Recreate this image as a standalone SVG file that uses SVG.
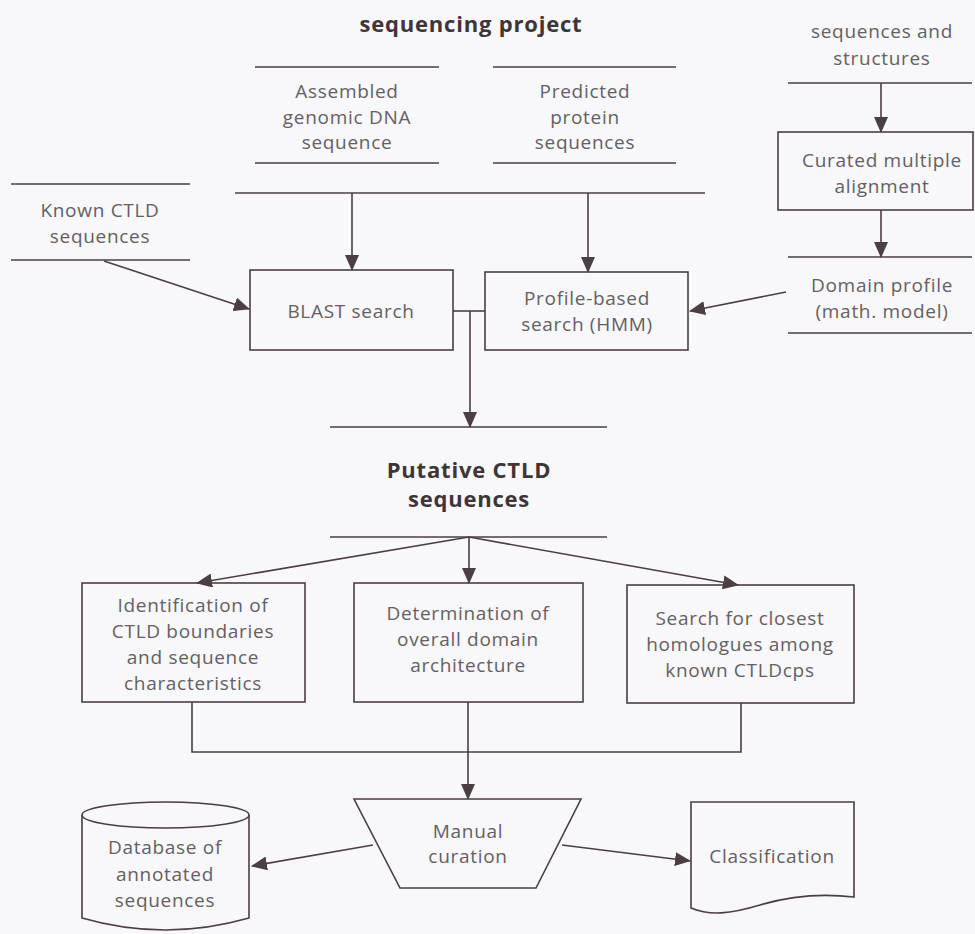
<svg xmlns="http://www.w3.org/2000/svg" width="975" height="934" viewBox="0 0 975 934">
<defs>
<marker id="ah" markerWidth="16" markerHeight="14" refX="15" refY="7" orient="auto" markerUnits="userSpaceOnUse"><path d="M0,0 L16,7 L0,14 z" fill="#4a3f43"/></marker>
<style>
.t{font-family:"Open Sans","Lato",sans-serif;font-size:19px;fill:#646063;text-anchor:middle;letter-spacing:0.7px}
.b{font-family:"Open Sans","Lato",sans-serif;font-size:22px;font-weight:bold;fill:#3e3538;text-anchor:middle;letter-spacing:0.8px}
.s{fill:none;stroke:#4a3f43;stroke-width:1.6}
.n{fill:#f8f7f9;stroke:#4a3f43;stroke-width:1.6}
.c{fill:none;stroke:#4a3f43;stroke-width:1.6}
</style>
</defs>
<rect width="975" height="934" fill="#f8f7f9"/>
<g id="title"><text class="b" x="471" y="32">sequencing project</text></g>
<g id="assembled">
<line class="s" x1="255" y1="67" x2="439" y2="67"/><line class="s" x1="255" y1="163" x2="439" y2="163"/>
<text class="t" x="347" y="98">Assembled</text><text class="t" x="347" y="124">genomic DNA</text><text class="t" x="347" y="149">sequence</text>
</g>
<g id="predicted">
<line class="s" x1="493" y1="67" x2="676" y2="67"/><line class="s" x1="493" y1="163" x2="676" y2="163"/>
<text class="t" x="585" y="98">Predicted</text><text class="t" x="585" y="124">protein</text><text class="t" x="585" y="149">sequences</text>
</g>
<g id="known">
<line class="s" x1="11" y1="184" x2="190" y2="184"/><line class="s" x1="11" y1="260" x2="190" y2="260"/>
<text class="t" x="100" y="217">Known CTLD</text><text class="t" x="100" y="243">sequences</text>
</g>
<g id="structures">
<text class="t" x="882" y="38">sequences and</text><text class="t" x="882" y="65">structures</text>
<line class="s" x1="788" y1="83" x2="972" y2="83"/>
</g>
<g id="curated">
<rect class="n" x="778" y="132" width="195" height="78"/>
<text class="t" x="882" y="167">Curated multiple</text><text class="t" x="882" y="193">alignment</text>
</g>
<g id="domain">
<line class="s" x1="788" y1="257" x2="972" y2="257"/><line class="s" x1="788" y1="333" x2="972" y2="333"/>
<text class="t" x="882" y="292">Domain profile</text><text class="t" x="882" y="318">(math. model)</text>
</g>
<g id="blast">
<rect class="n" x="250" y="270" width="203" height="80"/>
<text class="t" x="351" y="318">BLAST search</text>
</g>
<g id="profile">
<rect class="n" x="485" y="272" width="203" height="78"/>
<text class="t" x="587" y="305">Profile-based</text><text class="t" x="587" y="331">search (HMM)</text>
</g>
<g id="putative">
<line class="s" x1="330" y1="427" x2="607" y2="427"/><line class="s" x1="330" y1="537" x2="607" y2="537"/>
<text class="b" x="469" y="478">Putative CTLD</text><text class="b" x="469" y="507">sequences</text>
</g>
<g id="identification">
<rect class="n" x="82" y="583" width="223" height="119"/>
<text class="t" x="193" y="612">Identification of</text><text class="t" x="193" y="638">CTLD boundaries</text><text class="t" x="193" y="664">and sequence</text><text class="t" x="193" y="690">characteristics</text>
</g>
<g id="determination">
<rect class="n" x="354" y="583" width="229" height="119"/>
<text class="t" x="468" y="620">Determination of</text><text class="t" x="468" y="646">overall domain</text><text class="t" x="468" y="672">architecture</text>
</g>
<g id="search">
<rect class="n" x="627" y="585" width="227" height="118"/>
<text class="t" x="740" y="625">Search for closest</text><text class="t" x="740" y="651">homologues among</text><text class="t" x="740" y="677">known CTLDcps</text>
</g>
<g id="manual">
<path class="n" d="M354,799 L581,799 L536,888 L400,888 Z"/>
<text class="t" x="468" y="838">Manual</text><text class="t" x="468" y="863">curation</text>
</g>
<g id="database">
<path class="n" d="M82,815 L82,918 Q165,942 249,918 L249,815"/>
<ellipse class="n" cx="165.5" cy="815" rx="83.5" ry="13"/>
<text class="t" x="165" y="854">Database of</text><text class="t" x="165" y="881">annotated</text><text class="t" x="165" y="907">sequences</text>
</g>
<g id="classification">
<path class="n" d="M691,802 L854,802 L854,897 C820,893 790,896 760,905 C730,914 710,916 691,908 Z"/>
<text class="t" x="772" y="863">Classification</text>
</g>
<g id="connectors">
<line class="c" x1="235" y1="193" x2="705" y2="193"/>
<line class="c" x1="352" y1="193" x2="352" y2="270" marker-end="url(#ah)"/>
<line class="c" x1="588" y1="193" x2="588" y2="272" marker-end="url(#ah)"/>
<line class="c" x1="881" y1="83" x2="881" y2="132" marker-end="url(#ah)"/>
<line class="c" x1="881" y1="210" x2="881" y2="257" marker-end="url(#ah)"/>
<line class="c" x1="104" y1="261" x2="249" y2="309" marker-end="url(#ah)"/>
<line class="c" x1="786" y1="292" x2="690" y2="311" marker-end="url(#ah)"/>
<line class="c" x1="453" y1="311" x2="485" y2="311"/>
<line class="c" x1="470" y1="311" x2="470" y2="427" marker-end="url(#ah)"/>
<line class="c" x1="469" y1="537" x2="197" y2="583" marker-end="url(#ah)"/>
<line class="c" x1="469" y1="537" x2="469" y2="583" marker-end="url(#ah)"/>
<line class="c" x1="469" y1="537" x2="738" y2="585" marker-end="url(#ah)"/>
<polyline class="c" points="192,702 192,752 741,752 741,703"/>
<line class="c" x1="468" y1="702" x2="468" y2="799" marker-end="url(#ah)"/>
<line class="c" x1="373" y1="845" x2="252" y2="866" marker-end="url(#ah)"/>
<line class="c" x1="562" y1="845" x2="690" y2="861" marker-end="url(#ah)"/>
</g>
</svg>
